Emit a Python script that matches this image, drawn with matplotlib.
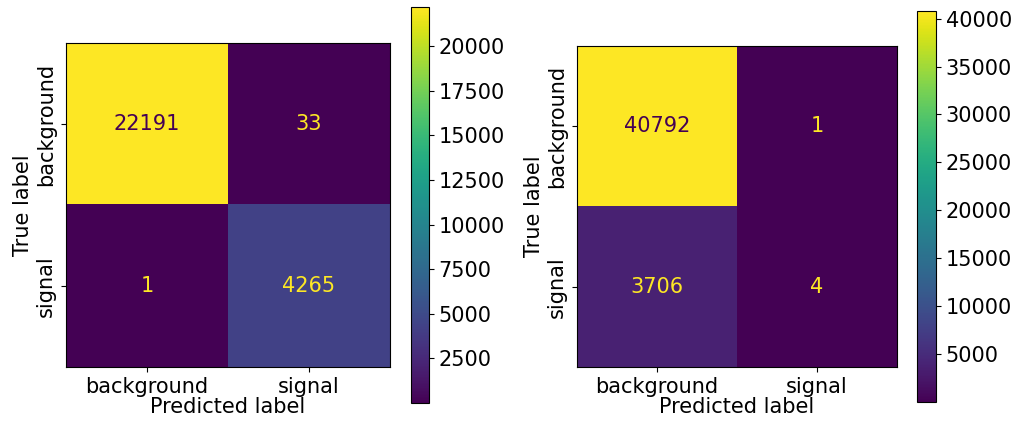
import numpy as np
import matplotlib
matplotlib.use("Agg")
import matplotlib.pyplot as plt

classes = ["background", "signal"]
cm_left = np.array([[22191, 33],
                    [1, 4265]])
cm_right = np.array([[40792, 1],
                     [3706, 4]])
ticks_left = [2500, 5000, 7500, 10000, 12500, 15000, 17500, 20000]
ticks_right = [5000, 10000, 15000, 20000, 25000, 30000, 35000, 40000]

plt.rcParams["font.size"] = 15
W, H = 1014, 423
fig = plt.figure(figsize=(W / 100, H / 100), dpi=100)


def px(x0, y0, x1, y1):
    return [x0 / W, 1 - y1 / H, (x1 - x0) / W, (y1 - y0) / H]


def draw(cm, ax_box, cb_box, ticks):
    ax = fig.add_axes(px(*ax_box))
    cax = fig.add_axes(px(*cb_box))
    cmap = plt.get_cmap("viridis")
    im = ax.imshow(cm, cmap=cmap, interpolation="nearest", aspect="auto")
    vmin, vmax = cm.min(), cm.max()
    thresh = (vmax + vmin) / 2.0
    for i in range(cm.shape[0]):
        for j in range(cm.shape[1]):
            color = cmap(0) if cm[i, j] >= thresh else cmap(1.0)
            ax.text(j, i, format(cm[i, j], "d"), ha="center", va="center",
                    color=color, fontsize=15)
    ax.set_xticks(range(len(classes)))
    ax.set_yticks(range(len(classes)))
    ax.set_xticklabels(classes)
    ax.set_yticklabels(classes, rotation=90, va="center")
    ax.set_xlabel("Predicted label", labelpad=0)
    ax.set_ylabel("True label", labelpad=2)
    cb = fig.colorbar(im, cax=cax)
    cb.set_ticks(ticks)
    cb.outline.set_linewidth(0.8)


draw(cm_left, (66, 43, 390, 367), (411, 7, 429, 403), ticks_left)
draw(cm_right, (577, 46, 897, 367), (917, 11, 936, 402), ticks_right)

fig.savefig("out.png", dpi=100)
